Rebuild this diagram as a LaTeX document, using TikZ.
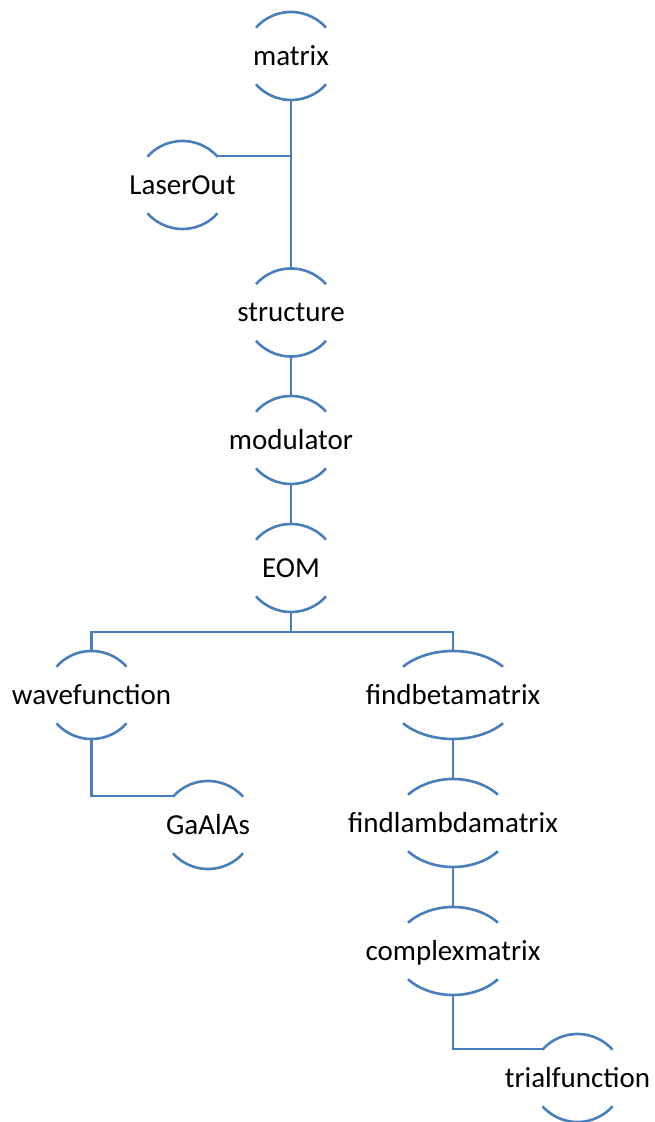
\documentclass[tikz,border=0pt]{standalone}
\usepackage{fontspec}
\setmainfont{Carlito}
\usepackage{tikz}
\usetikzlibrary{shapes.geometric,calc}
\definecolor{treeblue}{RGB}{74,126,187}
\tikzset{
  % 节点文字
  lbl/.style={
    font=\fontsize{29}{35}\selectfont,
    inner sep=0pt,
    text height=0.72em,
    text depth=0.1em,
    yshift=-6pt
  },
  % 节点外形(只画上下两段弧)
  bub/.style={
    ellipse,
    inner sep=0pt,
    outer sep=0pt,
    minimum height=88pt,
    minimum width=#1
  },
  % 连线样式
  branch/.style={treeblue, line width=2.6pt},
}

\begin{document}
\begin{tikzpicture}[x=1pt, y=1pt]
        \useasboundingbox (0,0) rectangle (654,1122);

        % 主干
        \node[bub=91.4pt, label={[lbl]center:matrix}] (mat) at (291, 1066) {};
        \node[bub=91.4pt, label={[lbl]center:LaserOut}] (laser) at (182.5, 937) {};
        \node[bub=91.4pt, label={[lbl]center:structure}] (str) at (291, 809.5) {};
        \node[bub=91.4pt, label={[lbl]center:modulator}] (mod) at (291, 682) {};
        \node[bub=91.4pt, label={[lbl]center:EOM}] (eom) at (291, 554) {};

        % 左分支
        \node[bub=91.4pt, label={[lbl]center:wavefunction}] (wave) at (91.5, 427) {};
        \node[bub=91.4pt, label={[lbl]center:GaAlAs}] (gaalas) at (208, 297) {};

        % 右分支
        \node[bub=130.6pt, label={[lbl]center:findbetamatrix}] (fbeta) at (453, 427) {};
        \node[bub=117.4pt, label={[lbl]center:findlambdamatrix}] (flam) at (453, 299) {};
        \node[bub=117.4pt, label={[lbl]center:complexmatrix}] (cplx) at (453, 171) {};
        \node[bub=91.4pt, label={[lbl]center:trialfunction}] (trial) at (577.5, 44) {};

        % 上下弧
        \foreach \nd in {mat, laser, str, mod, eom, wave, gaalas, fbeta, flam, cplx, trial}
          \draw[branch] let \p1 = ($(\nd.east)-(\nd.center)$) in
            ($(\nd.center)+(40:\x1 and 44pt)$) arc[start angle=40, end angle=140, x radius=\x1, y radius=44pt]
            ($(\nd.center)+(220:\x1 and 44pt)$) arc[start angle=220, end angle=320, x radius=\x1, y radius=44pt];

        % 连线
        \draw[branch] (mat.south) -- (str.north);
        \draw[branch] (laser.40) -| (mat.south);
        \draw[branch] (str.south) -- (mod.north);
        \draw[branch] (mod.south) -- (eom.north);
        \draw[branch] (eom.south) -- ++(0,-20) -| (wave.north);
        \draw[branch] (eom.south) -- ++(0,-20) -| (fbeta.north);
        \draw[branch] (wave.south) |- (gaalas.140);
        \draw[branch] (fbeta.south) -- (flam.north);
        \draw[branch] (flam.south) -- (cplx.north);
        \draw[branch] (cplx.south) |- (trial.140);
    \end{tikzpicture}
\end{document}
